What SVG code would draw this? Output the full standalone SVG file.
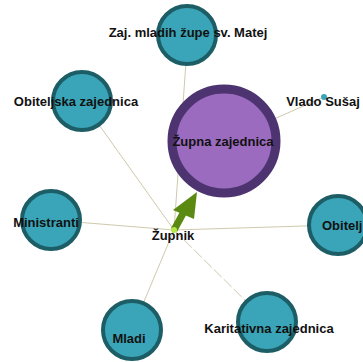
<svg xmlns="http://www.w3.org/2000/svg" width="363" height="362" viewBox="0 0 363 362">
<style>
.e{stroke:#cfc9ad;stroke-width:1;fill:none}
.n{fill:#3aa5b8;stroke:#1d5e66;stroke-width:4}
.t{font-family:"Liberation Sans",Arial,sans-serif;font-weight:bold;font-size:13px;fill:#111;text-anchor:middle}
</style>
<rect width="363" height="362" fill="#fff"/>
<g id="connectors">
<line class="e" x1="174" y1="230" x2="186" y2="62"/>
<line class="e" x1="174" y1="230" x2="82" y2="101"/>
<line class="e" x1="174" y1="230" x2="51" y2="220"/>
<line class="e" x1="174" y1="230" x2="337" y2="225"/>
<line class="e" x1="174" y1="230" x2="132" y2="330"/>
<line class="e" x1="174" y1="230" x2="267" y2="322" stroke-dasharray="11,3"/>
<line class="e" x1="224" y1="141" x2="324" y2="97"/>
<line x1="174" y1="230" x2="186" y2="208" stroke="#5a8a12" stroke-width="7"/>
<polygon points="197,192 173,210 194,219" fill="#5a8a12"/>
</g>
<g id="zaj-mladih"><circle class="n" cx="187" cy="35" r="29"/><text class="t" x="188" y="37">Zaj. mladih župe sv. Matej</text></g>
<g id="obiteljska"><circle class="n" cx="82" cy="101" r="29"/><text class="t" x="76" y="106">Obiteljska zajednica</text></g>
<g id="zupna"><circle cx="224" cy="141" r="52" fill="#9b6bc0" stroke="#4d3470" stroke-width="9"/><text class="t" x="223" y="146">Župna zajednica</text></g>
<g id="vlado"><circle cx="324" cy="97" r="3" fill="#3aa5b8"/><text class="t" x="323" y="106">Vlado Sušaj</text></g>
<g id="ministranti"><circle class="n" cx="51" cy="220" r="29"/><text class="t" x="46" y="227">Ministranti</text></g>
<g id="obitelj"><circle class="n" cx="338" cy="225" r="29"/><text class="t" x="322" y="230" style="text-anchor:start">Obitelj</text></g>
<g id="zupnik"><circle cx="174" cy="230" r="3" fill="#b6e84a"/><text class="t" x="173" y="240">Župnik</text></g>
<g id="mladi"><circle class="n" cx="132" cy="330" r="29"/><text class="t" x="129" y="343">Mladi</text></g>
<g id="karitativna"><circle class="n" cx="267" cy="322" r="29"/><text class="t" x="269" y="333">Karitativna zajednica</text></g>
</svg>
